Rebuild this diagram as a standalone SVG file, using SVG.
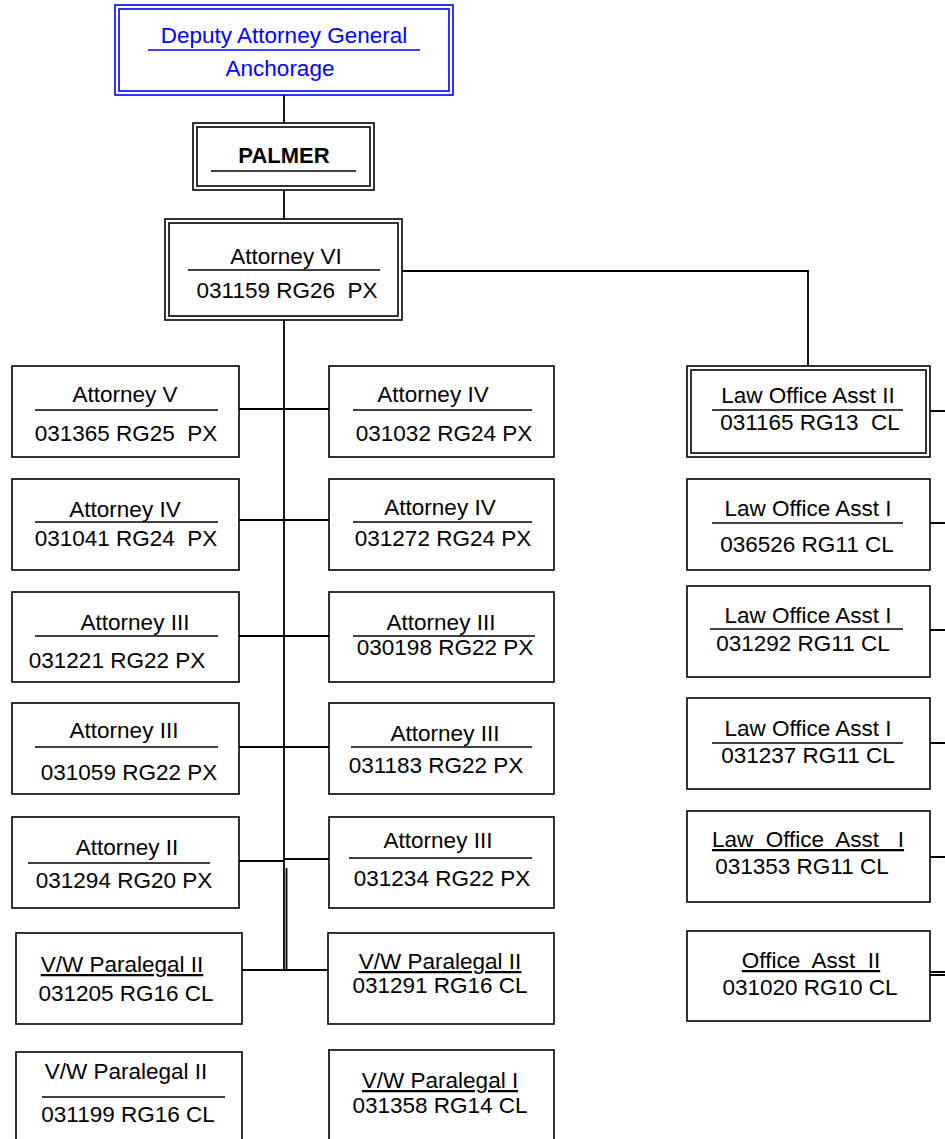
<svg xmlns="http://www.w3.org/2000/svg" width="945" height="1139" viewBox="0 0 945 1139">
<style>
text{font-family:"Liberation Sans",Arial,sans-serif;font-size:22.5px;fill:#000;text-anchor:middle}
.b{fill:none;stroke:#000;stroke-width:1.6}
.blu{fill:none;stroke:#0000ff;stroke-width:1.6}
.ln{stroke:#000;stroke-width:1.5}
.c{fill:none;stroke:#000;stroke-width:1.8}
.bt{fill:#0000ff}
.bold{font-weight:bold;font-size:22px}
</style>
<rect width="945" height="1139" fill="#fff"/>
<g id="connectors">
<path class="c" d="M284 95V123M284 190V220M402 271H808V366M284 320V970M286.5 868V970"/>
<path class="c" d="M239 409H329M239 520H329M239 636H329M239 747H329M239 861H284M284 859H329M242 970H328"/>
<path class="c" d="M930 411H945M930 523H945M930 630H945M930 743H945M930 857H945"/>
<path class="c" d="M930 972H945M930 975H945"/>
</g>
<g id="n-dag">
<rect class="blu" x="115" y="5" width="338" height="90"/>
<rect class="blu" x="119" y="9" width="330" height="82"/>
<text class="bt" x="284" y="43">Deputy Attorney General</text>
<line x1="148" y1="50" x2="420" y2="50" stroke="#0000ff" stroke-width="1.5"/>
<text class="bt" x="280" y="76">Anchorage</text>
</g>
<g id="n-palmer">
<rect class="b" x="193" y="123" width="181" height="67"/>
<rect class="b" x="197" y="127" width="173" height="59"/>
<text class="bold" x="284" y="163">PALMER</text>
<line class="ln" x1="211" y1="171" x2="356" y2="171"/>
</g>
<g id="n-att6">
<rect class="b" x="165" y="219" width="237" height="101"/>
<rect class="b" x="169" y="223" width="229" height="93"/>
<text x="286" y="264">Attorney VI</text>
<line class="ln" x1="188" y1="270" x2="380" y2="270"/>
<text x="287" y="298" xml:space="preserve">031159 RG26  PX</text>
</g>
<g id="n-l1">
<rect class="b" x="12" y="366" width="227" height="91"/>
<text x="125" y="402">Attorney V</text>
<line class="ln" x1="35" y1="410" x2="218" y2="410"/>
<text x="126" y="441" xml:space="preserve">031365 RG25  PX</text>
</g>
<g id="n-r1">
<rect class="b" x="329" y="366" width="225" height="91"/>
<text x="433" y="402">Attorney IV</text>
<line class="ln" x1="353" y1="410" x2="532" y2="410"/>
<text x="444" y="441">031032 RG24 PX</text>
</g>
<g id="n-l2">
<rect class="b" x="12" y="479" width="227" height="91"/>
<text x="125" y="517">Attorney IV</text>
<line class="ln" x1="35" y1="522" x2="218" y2="522"/>
<text x="126" y="546" xml:space="preserve">031041 RG24  PX</text>
</g>
<g id="n-r2">
<rect class="b" x="329" y="479" width="225" height="91"/>
<text x="440" y="515">Attorney IV</text>
<line class="ln" x1="353" y1="522" x2="532" y2="522"/>
<text x="443" y="546">031272 RG24 PX</text>
</g>
<g id="n-l3">
<rect class="b" x="12" y="592" width="227" height="90"/>
<text x="135" y="630">Attorney III</text>
<line class="ln" x1="35" y1="636" x2="218" y2="636"/>
<text x="117" y="668">031221 RG22 PX</text>
</g>
<g id="n-r3">
<rect class="b" x="329" y="592" width="225" height="90"/>
<text x="441" y="630">Attorney III</text>
<line class="ln" x1="353" y1="636" x2="535" y2="636"/>
<text x="445" y="655">030198 RG22 PX</text>
</g>
<g id="n-l4">
<rect class="b" x="12" y="703" width="227" height="91"/>
<text x="124" y="738">Attorney III</text>
<line class="ln" x1="35" y1="747" x2="218" y2="747"/>
<text x="129" y="780">031059 RG22 PX</text>
</g>
<g id="n-r4">
<rect class="b" x="329" y="703" width="225" height="91"/>
<text x="445" y="741">Attorney III</text>
<line class="ln" x1="351" y1="747" x2="532" y2="747"/>
<text x="436" y="773">031183 RG22 PX</text>
</g>
<g id="n-l5">
<rect class="b" x="12" y="817" width="227" height="91"/>
<text x="127" y="855">Attorney II</text>
<line class="ln" x1="28" y1="863" x2="210" y2="863"/>
<text x="124" y="888">031294 RG20 PX</text>
</g>
<g id="n-r5">
<rect class="b" x="329" y="817" width="225" height="91"/>
<text x="438" y="848">Attorney III</text>
<line class="ln" x1="349" y1="858" x2="532" y2="858"/>
<text x="442" y="886">031234 RG22 PX</text>
</g>
<g id="n-l6">
<rect class="b" x="16" y="933" width="226" height="91"/>
<text x="122" y="972" text-decoration="underline">V/W Paralegal II</text>
<text x="126" y="1001">031205 RG16 CL</text>
</g>
<g id="n-r6">
<rect class="b" x="328" y="933" width="226" height="91"/>
<text x="440" y="969" text-decoration="underline">V/W Paralegal II</text>
<text x="440" y="993">031291 RG16 CL</text>
</g>
<g id="n-l7">
<rect class="b" x="16" y="1052" width="226" height="95"/>
<text x="126" y="1079">V/W Paralegal II</text>
<line class="ln" x1="42" y1="1097" x2="225" y2="1097"/>
<text x="128" y="1122">031199 RG16 CL</text>
</g>
<g id="n-r7">
<rect class="b" x="329" y="1050" width="225" height="97"/>
<text x="440" y="1088" text-decoration="underline">V/W Paralegal I</text>
<text x="440" y="1113">031358 RG14 CL</text>
</g>
<g id="n-loa2">
<rect class="b" x="687" y="366" width="243" height="91"/>
<rect class="b" x="691" y="370" width="235" height="83"/>
<text x="808" y="403">Law Office Asst II</text>
<line class="ln" x1="712" y1="410" x2="903" y2="410"/>
<text x="810" y="430" xml:space="preserve">031165 RG13  CL</text>
</g>
<g id="n-loa1a">
<rect class="b" x="687" y="479" width="243" height="91"/>
<text x="808" y="516">Law Office Asst I</text>
<line class="ln" x1="712" y1="523" x2="903" y2="523"/>
<text x="807" y="552">036526 RG11 CL</text>
</g>
<g id="n-loa1b">
<rect class="b" x="687" y="586" width="243" height="91"/>
<text x="808" y="623">Law Office Asst I</text>
<line class="ln" x1="710" y1="629" x2="903" y2="629"/>
<text x="803" y="651">031292 RG11 CL</text>
</g>
<g id="n-loa1c">
<rect class="b" x="687" y="698" width="243" height="91"/>
<text x="808" y="736">Law Office Asst I</text>
<line class="ln" x1="712" y1="743" x2="903" y2="743"/>
<text x="808" y="763">031237 RG11 CL</text>
</g>
<g id="n-loa1d">
<rect class="b" x="687" y="811" width="243" height="91"/>
<text x="808" y="847" text-decoration="underline" xml:space="preserve">Law  Office  Asst   I</text>
<text x="802" y="874">031353 RG11 CL</text>
</g>
<g id="n-oa2">
<rect class="b" x="687" y="931" width="243" height="90"/>
<text x="811" y="968" text-decoration="underline" xml:space="preserve">Office  Asst  II</text>
<text x="810" y="995">031020 RG10 CL</text>
</g>
</svg>
